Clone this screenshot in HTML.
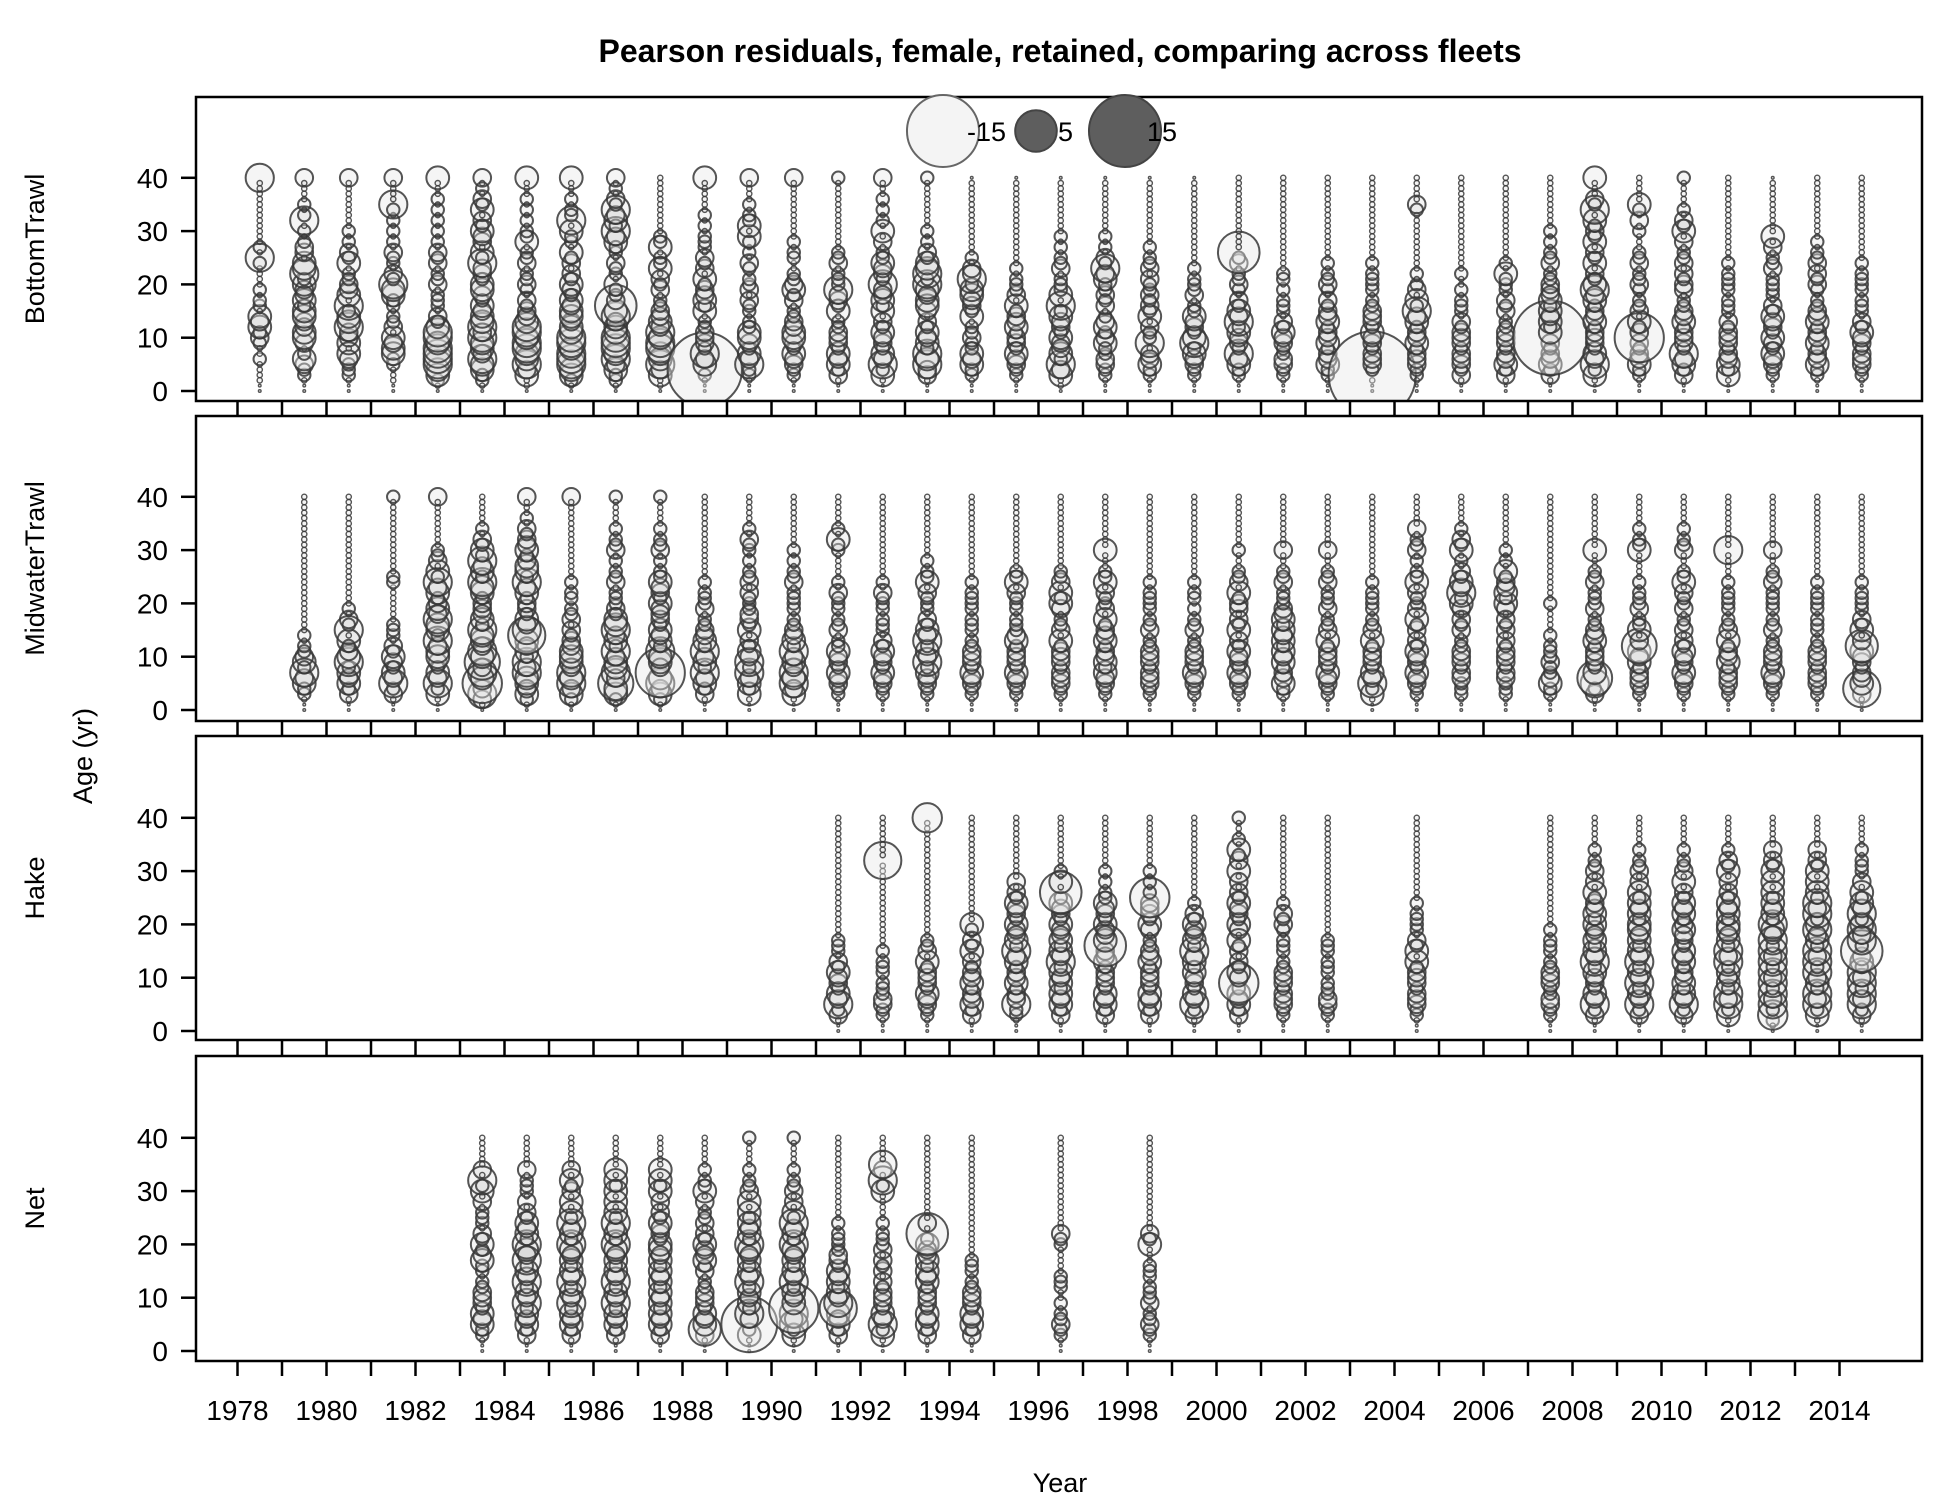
<!DOCTYPE html>
<html><head><meta charset="utf-8">
<style>
html,body{margin:0;padding:0;background:#fff;}
svg{display:block;font-family:"Liberation Sans",Arial,sans-serif;}
</style></head>
<body>
<svg id="chart" width="1950" height="1500" viewBox="0 0 1950 1500" xmlns="http://www.w3.org/2000/svg">
<text x="1060" y="62" text-anchor="middle" font-size="32" font-weight="bold">Pearson residuals, female, retained, comparing across fleets</text>
<text x="1060" y="1500" text-anchor="middle" font-size="27" dy="-8">Year</text>
<text transform="translate(92,756) rotate(-90)" text-anchor="middle" font-size="27">Age (yr)</text>
<g id="panels"></g>
</svg>
<script>
// ---- data ----
const fleetNames = ["BottomTrawl","MidwaterTrawl","Hake","Net"];
const btYears = [1978,1979,1980,1981,1982,1983,1984,1985,1986,1987,1988,1989,1990,1991,1992,1993,1994,1995,1996,1997,1998,1999,2000,2001,2002,2003,2004,2005,2006,2007,2008,2009,2010,2011,2012,2013,2014];
const btCodes = [
"0011112b12 3c4d4b2c12 1111c5b211 1111111111 5","0012c3e2b3 e4d3e4c4d3 4c5e4b3d21 2b52121111 3","0012c2d4b4 3d5e4c5b4d 3c2b4c3b21 2111111111 3","0011122e4d 4b3c2b2c4e 5c3b2c3b21 2121c51111 3",
"012e4f5f5e 5f4c3b2c2b 3c2b3c3b21 2121212111 4","012c4e5d4e 5d5e4d4c3e 4c3d5c4b3d 4c3b4c3b21 3","0114d5e4f5 e5f4d3c3b2 3c2b3c2b4c 2b21212111 4","0124e5f5e5 f4e3e4d4c3 4c3b3c4b2c 4b5c2b2111 4",
"012c4d5e5f 5e4d5e3d2c 4b2c3b2c4d 5c4d5c3b21 3","0114d5e4f5 e5d4d3c2b3 c3b4c2b4c2 1111111111 1","0012c4d5c3 d3c2b4c4d3 c4b3c3b2c2 b212111111 4","0012c5d4c3 e4c2b2c3b3 2c1c3b21c4 b4c2b21111 3",
"0012c3d4c3 e4d3c2b3c4 3c2b1c2b21 1111111111 3","0013c4d4c3 d3c2b4c3d5 2c2b3c2111 1111111111 2","0014c5d4c3 d4c3b4c4d3 5c3d4c2b31 4b21212111 3","0013d5e5c4 d4c3b3e4d4 5c5e4c3b21 2111111111 2",
"0012c4d4c2 3c2b4c3d4 4c5d3b2111 1111111111 1","0012c3d4c3 3c4d3c4b3 2c2b211111 1111111111 1","0114d5c4d3 4c3d4c5b4 2c2b3c2b21 2111111111 1","0012c3d2c4 3c4d2b3c3 2c4d5c3b21 2111111111 1",
"0012c4d3b5 2c3b4c3c3 2c3b3c2b21 1111111111 1","0012c3d4c5 4c3d4c2b3 2c2b211111 1111111111 1","0012c4d5c3 d4c5d4c3b2 3c2b3c2b11 1111111111 1","0012c3d2c3 d4c3b2c2b2 1c2b111111 1111111111 1",
"0012c4d3c4 d3c4d3c3b2 3c2b211111 1111111111 1","0012c3d3c3 d4c3d3c2b2 2c2b211111 1111111111 1","0012c3d3c4 d3c4d5c4b3 2b21111111 1111c31111 1","0013c3d3c3 d3c3b2c2b2 1b21111111 1111111111 1",
"0013c4d3c3 d3c2b3c3b2 2c4b211111 1111111111 1","0013c4d3c3 d4c4d4c4d3 3c2b3c2b21 2111111111 1","0014c5d4c3 d3c4d3c4d5 4c3b4c3b42 3c4b5c3111 4","0012c4d3c3 d3c4b3c2b2 3c2b3c2b11 2b31c41111 1",
"0013c4d5c3 d3c4d3c2b3 3c3b3c2b31 4c3b211111 2","0014c4d3c3 d3c3b2c2b2 2c2b211111 1111111111 1","0012c3d4c3 4c3d4c3b2 2c2b3c2b31 4111111111 1","0012c4d3c4 d3c4d3c2b2 3c3b3c2b21 1111111111 1",
"0012c3d3c3 d4c3b2c2b2 2c2b211111 1111111111 1"];
const mwYears = [1979,1980,1981,1982,1983,1984,1985,1986,1987,1988,1989,1990,1991,1992,1993,1994,1995,1996,1997,1998,1999,2000,2001,2002,2003,2004,2005,2006,2007,2008,2009,2010,2011,2012,2013,2014];
const mwCodes = [
"0012c4d5c4 3c2b211111 1111111111 1111111111 1","0013c4d4c5 e3c4b5c3b2 1111111111 1111111111 1","0013c5d4c3 4c3b2c2111 1111c21111 1111111111 2","0014c5d4c3 e4d5c4e5d4 3c4d5c4b3c 2111111111 3",
"0135d6e5d6 e5d4e5c4d3 3c4e5c4d5c 4c3b211111 1","0124d4e5d5 c4d4e5d4c3 3c4d5c4e3c 4d3c3b2111 3","0124d5e5d4 e4d3c3b3c2 1c2b211111 1111111111 3","0124e6d5e4 d5c4d5e4c3 2c2b3c2b21 3c2b211111 2",
"0124d5e5d4 e5c4d4c3d3 4c3d4c2b21 3c2b211111 2","0013c4d5c4 d5c4d3c2b3 2c2b211111 1111111111 1","0014c4d5c5 d4c3b4c3d2 2c3b3c2b21 2c3b211111 1","0014d5e5d4 d5c4d3c2b2 2c2b3c2b21 2111111111 1",
"0012c3d4c3 d4c2b3c2b2 2c3b211111 2c4b211111 1","0012c3d4c3 d4c3b2c2b2 2c3b211111 1111111111 1","0012c3d4c5 d4c5d4c3b2 2c3b4c2b21 1111111111 1","0012c3d4c3 d3c2b2c2b2 2c2b211111 1111111111 1",
"0012c3d4c3 d3c4d2c2b2 2c3b4c2b11 1111111111 1","0012c3d3c3 d3c4b3c2b3 4c4b3c2b11 1111111111 1","0012c3d4c4 d3c4d3c4b3 2c3b4c2b11 4111111111 1","0012c3d3c3 d3c2b3c2b2 2c2b211111 1111111111 1",
"0012c3d4c3 d3c2b3c2b2 1c2b211111 1111111111 1","0012c3d4c3 d4c3b4c3b3 3c4b3c2b11 2111111111 1","0012c4d3c4 d4c4d4c4d3 2c2b3c2b11 3111111111 1","0012c3d4c3 d3c4b3c2b3 2c2b3c2b11 3111111111 1",
"0014c5d4c3 d3c4b3c2b2 2c2b211111 1111111111 1","0012c3d4c3 d4c3b3c4b3 2c3b4c2b21 3c2b311111 1","0012c2d3c3 d3c2b3c3b3 4c5d4c3b21 4c3b211111 1","0012c2d3c3 d3c3b3c3b3 4c4d3c4b21 2111111111 1",
"0012c4d2c3 2c2b211111 2111111111 1111111111 1","0013c5d4c3 d3c4d3c2b3 2c2b3c2b11 4111111111 1","0012c3d3c4 d4c3b4c2b3 2c2b211111 4c2b211111 1","0012c3d4c3 d4c3b3c2b3 2c3b4c2b11 3c2b211111 1",
"0012c3d3c4 d3c4b3c2b2 2c2b211111 5111111111 1","0012c3d4c3 d3c2b3c2b2 2c2b3c2b11 3111111111 1","0012c3d3c3 d3c2b2c2b2 2c2b211111 1111111111 1","0013c4d3c3 d4c3b4c3b2 2c2b211111 1111111111 1"];
const hkYears = [1991,1992,1993,1994,1995,1996,1997,1998,1999,2000,2001,2002,2004,2007,2008,2009,2010,2011,2012,2013,2014];
const hkCodes = [
"0013c5d4c3 d4c3b2c211 1111111111 1111111111 1","0012c3d2c2 b2c2b21111 1111111111 1111111111 1","0012c3d4c3 d3c4b3c211 1111111111 1111111111 1","0013c4d3c4 d3c3b4c3b2 4111111111 1111111111 1",
"0012c5d3c4 d3c4d5c4d3 4c3d4c3b31 1111111111 1","0013c4d4c4 d4c5d4c4d3 4c3d4c3b41 2111111111 1","0013c4d4c3 d3c4d3c4d3 4c3d4c2b21 2111111111 1","0013c4d4c3 d3c4d3c2b3 4c3d3c2b21 2111111111 1",
"0013c5d4c3 d4c4d5c4d3 4c3b211111 1111111111 1","0013c4d4c3 d4c3b3c4b3 4c3d4c3b31 4b3c4b2111 2","0012c3d3c3 d3c2b2c2b2 3c3b211111 1111111111 1","0012c3d2c2 b2c2b2c211 1111111111 1111111111 1",
"0012c3d3c3 d3c4b4c3b2 2c2b211111 1111111111 1","0012c3d2c3 d3c2b2c2b2 1111111111 1111111111 1","0013c5d4c3 d4c5d4c4d3 4c4d3c4b31 3c2b211111 1","0013c5d4c5 d4c5d4c4d4 4c4d4c4b31 3c2b211111 1",
"0013c5d4c4 d3c4d4c3d4 3c4d4c3b41 3c2b211111 1","0014c5d5c4 d4c5d5c4d4 4c4d4c3b31 4c3b211111 1","0124c5d5c5 d5c5d5c5d4 5c4d4c4b41 4c3b311111 1","0014c5d5c4 d5c5d5c4d5 4c5d5c4b41 4c3b311111 1",
"0013c5d5c5 d5c4d5c5d5 4c5d4c4b31 2c2b211111 1"];
const ntYears = [1983,1984,1985,1986,1987,1988,1989,1990,1991,1992,1993,1994,1996,1998];
const ntCodes = [
"0012c4d4c3 d3c2b2c4d2 4c3b2c2b31 4c5b311111 1","0013c4d4c5 d4c5d4c5d4 5c4d4c3b31 2c2b311111 1","0013c4d4c5 d4c5d4c4d4 5c4d5c4b41 3c4b311111 1","0013c4d4c5 d4c5d4c4d4 5c4d5c4b41 4c4b411111 1",
"0013c4d4c4 d4c4d4c4d4 4c3d4c3b31 4c4b411111 1","0013c4d4c3 d3c2b3c4d3 4c3b3c2b31 4c2b211111 1","0014c5d5c4 d4c5d4c4d4 5c4d4c4b41 3c2b211111 2","0014c5d5c4 d4c5d4c4d4 5c4d5c4b31 3c2b211111 2",
"0013c4d4c5 d4c4d4c3d2 2c2b211111 1111111111 1","0014c5d4c3 d3c3b3c3b3 2c2b211111 4c5b311111 1","0013c4d4c3 d3c4d4c4d3 4c5b311111 1111111111 1","0013c4d4c3 d3c2b2c211 1111111111 1111111111 1",
"0012c3c2b2 1b2c211111 2c31111111 1111111111 1","0012c3c2b3 2c2b2c2111 4c31111111 1111111111 1"];
// magnitude levels for codes 0-9 (positive) / a-j (negative)
const codeLevels = [0.02,0.08,0.45,0.9,1.5,2.3,3.6,5,7,10];
// large residuals read individually: fleet index, year, age, value
const bigFleet = [0,0,0,0,0,0, 1,1,1,1,1,1,1, 2,2,2,2,2,2,2,2, 3,3,3,3,3,3];
const bigYear  = [1988,1986,2000,2003,2007,2009, 1983,1984,1987,2014,2014,2008,2009, 1992,1993,1996,1997,1998,2000,2014,2012, 1989,1990,1991,1988,1993,1992];
const bigAge   = [4,16,26,3,10,10, 5,14,7,4,12,6,12, 32,40,26,16,25,9,15,3, 5,8,8,4,22,35];
const bigValue = [-16,5,-5,-22,-16,-7, -4.5,-4,-7,-4,-3,-3.5,-3.5, -4,-2.5,-5,-5,-4.5,-4.5,-5,-2.5, -9,-7,-4,-3,-5,-2.2];
const ageTicks = [0,10,20,30,40];
const yearTicks = [1978,1979,1980,1981,1982,1983,1984,1985,1986,1987,1988,1989,1990,1991,1992,1993,1994,1995,1996,1997,1998,1999,2000,2001,2002,2003,2004,2005,2006,2007,2008,2009,2010,2011,2012,2013,2014];
const legendValues = [-15,5,15];

// ---- layout ----
const NS="http://www.w3.org/2000/svg";
const svg=document.getElementById('chart');
const L=196,R=1922;
const panelTop=[97,416,736,1056], panelBot=[401,721,1040,1361], age0=[391,710,1031,1351];
const pxAge=5.33;
function xScale(y){return 237.5+(y-1978)*44.5;}
function yScale(p,a){return age0[p]-a*pxAge;}
function rScale(v){return 9.3*Math.sqrt(Math.abs(v));}
function mk(tag,attrs,parent){const e=document.createElementNS(NS,tag);for(const k in attrs)e.setAttribute(k,attrs[k]);(parent||svg).appendChild(e);return e;}
function decode(s){s=s.replace(/ /g,'');const out=[];for(let i=0;i<41;i++){const c=s[i]||'0';const d=c.charCodeAt(0);if(d>=48&&d<=57)out.push(codeLevels[d-48]);else out.push(-codeLevels[d-97]);}return out;}

const fleetYears=[btYears,mwYears,hkYears,ntYears];
const fleetCodes=[btCodes,mwCodes,hkCodes,ntCodes];

for(let p=0;p<4;p++){
  const g=mk('g',{});
  
  
  const fl=mk('text',{transform:`translate(44,${(panelTop[p]+panelBot[p])/2}) rotate(-90)`,'text-anchor':'middle','font-size':27},g);
  fl.textContent=fleetNames[p];
  
  
  ageTicks.forEach(a=>{
    const y=yScale(p,a);
    const t=mk('line',{x1:181,x2:L,y1:y,y2:y,stroke:'#000','stroke-width':2.5},g);
    
    
    const tl=mk('text',{x:168,y:y+10,'text-anchor':'end','font-size':28},g);
    tl.textContent=a;
    
    
  });
  yearTicks.forEach(yr=>{
    const x=xScale(yr);
    const t=mk('line',{x1:x,x2:x,y1:panelBot[p],y2:panelBot[p]+15,stroke:'#000','stroke-width':2.5},g);
    
    
  });
  const years=fleetYears[p],codes=fleetCodes[p];
  const clip=mk('clipPath',{id:'clip'+p},g);
  mk('rect',{x:L,y:panelTop[p],width:R-L,height:panelBot[p]-panelTop[p]},clip);
  const bg=mk('g',{'clip-path':`url(#clip${p})`},g);
  years.forEach((yr,i)=>{
    const vals=decode(codes[i]);
    for(let k=0;k<bigFleet.length;k++){if(bigFleet[k]===p&&bigYear[k]===yr)vals[bigAge[k]]=bigValue[k];}
    vals.forEach((v,a)=>{
      const r=Math.max(0.9,rScale(v));
      const c=mk('circle',{cx:xScale(yr+0.5),cy:yScale(p,a),r:r,
        fill:v<0?'rgba(230,230,230,0.4)':'rgba(90,90,90,0.06)',stroke:'rgba(55,55,55,0.85)','stroke-width':r<4?1.4:2},bg);
      
      
    });
  });
  const frame=mk('rect',{x:L,y:panelTop[p],width:R-L,height:panelBot[p]-panelTop[p],fill:'none',stroke:'#000','stroke-width':2.5},g);
  
  
}
yearTicks.forEach(yr=>{
  if(yr%2!==0)return;
  const t=mk('text',{x:xScale(yr),y:1420,'text-anchor':'middle','font-size':28});
  t.textContent=yr;
  
  
});
const lg=mk('g',{});


const legCx=[943,1036,1125];
legendValues.forEach((v,i)=>{
  const c=mk('circle',{cx:legCx[i],cy:131,r:rScale(v),fill:v<0?'#f4f4f4':'#5e5e5e',stroke:v<0?'#666':'#444','stroke-width':2},lg);
  
  
  const t=mk('text',{x:legCx[i]+(v<0?24:22),y:141,'font-size':27},lg);
  t.textContent=v;
  
  
});
</script>
</body></html>
